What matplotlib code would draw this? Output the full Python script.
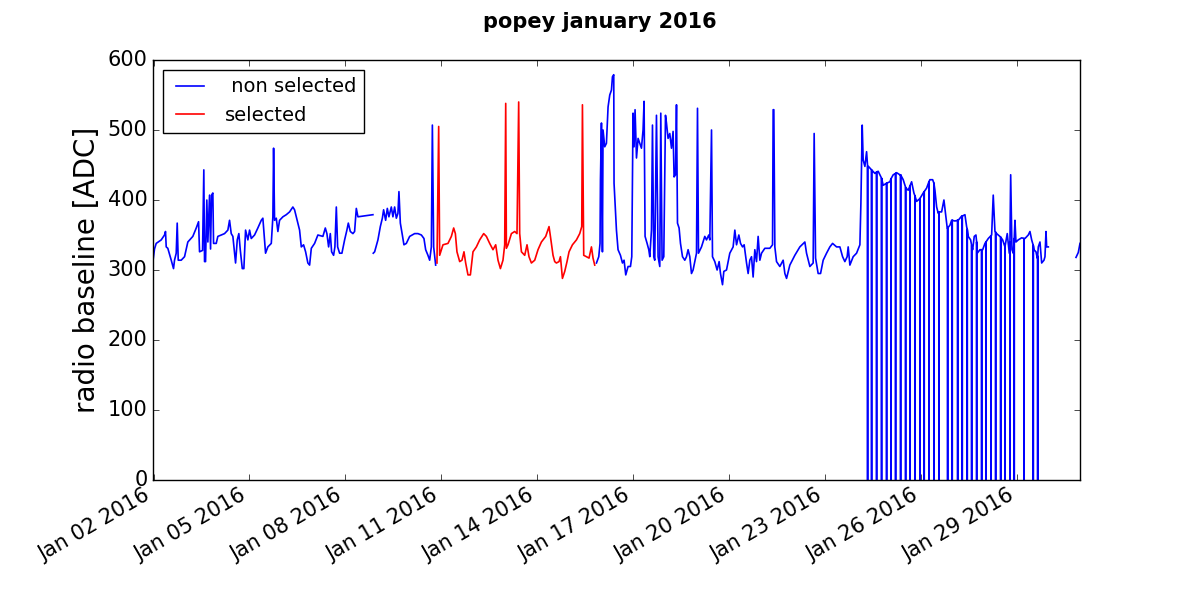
import numpy as np
import matplotlib
matplotlib.use("Agg")
import matplotlib.pyplot as plt
import matplotlib.dates as mdates

plt.style.use('classic')

# time = day of January 2016 (fractional), value = radio baseline [ADC]
# non selected, part 1 (Jan 02 - Jan 08)
seg1_day = [1.984, 2.031, 2.084, 2.241, 2.344, 2.375, 2.397, 2.447, 2.554, 2.626,
            2.657, 2.710, 2.741, 2.773, 2.866, 2.970, 3.073, 3.229, 3.336, 3.408,
            3.439, 3.533, 3.573, 3.595, 3.627, 3.667, 3.699, 3.752, 3.783, 3.814,
            3.855, 3.877, 3.961, 4.011, 4.118, 4.221, 4.324, 4.377, 4.430, 4.481,
            4.565, 4.618, 4.668, 4.712, 4.775, 4.825, 4.878, 4.950, 5.003, 5.056,
            5.159, 5.262, 5.369, 5.419, 5.503, 5.575, 5.682, 5.732, 5.754, 5.785,
            5.838, 5.888, 5.941, 6.045, 6.151, 6.254, 6.357, 6.410, 6.464, 6.567,
            6.620, 6.692, 6.755, 6.826, 6.880, 6.933, 7.036, 7.139, 7.296, 7.371,
            7.421, 7.474, 7.527, 7.568, 7.630, 7.671, 7.715, 7.756, 7.818, 7.890,
            7.974, 8.046, 8.090, 8.153, 8.234, 8.287, 8.340, 8.391, 8.860]
seg1_adc = [313, 330, 338, 343, 350, 355, 333, 331, 314, 302,
            314, 324, 367, 314, 314, 319, 340, 348, 360, 369,
            326, 328, 443, 312, 312, 400, 340, 407, 330, 407,
            410, 338, 338, 348, 350, 352, 357, 371, 352, 348,
            310, 343, 352, 329, 302, 302, 357, 343, 357, 345,
            350, 360, 371, 374, 324, 333, 338, 376, 474, 371,
            374, 355, 371, 376, 379, 383, 390, 386, 376, 357,
            333, 336, 326, 310, 307, 331, 338, 350, 348, 360,
            352, 333, 352, 326, 321, 333, 390, 333, 324, 324,
            343, 357, 367, 355, 352, 355, 388, 376, 379]

# non selected, part 2 (Jan 08 - Jan 10)
seg2_day = [8.870, 8.913, 9.016, 9.091, 9.154, 9.194, 9.257, 9.310, 9.360, 9.435,
            9.485, 9.538, 9.592, 9.642, 9.673, 9.717, 9.779, 9.829, 9.904, 10.008,
            10.164, 10.267, 10.374, 10.455, 10.508, 10.580, 10.633, 10.686, 10.718, 10.758,
            10.821]
seg2_adc = [324, 326, 343, 362, 374, 386, 371, 388, 376, 390,
            376, 390, 374, 381, 412, 367, 350, 336, 338, 348,
            352, 352, 350, 345, 329, 321, 314, 333, 507, 333,
            307]

# selected (Jan 10 - Jan 15)
sel_day = [10.862, 10.915, 10.946, 11.049, 11.206, 11.312, 11.384, 11.437, 11.487, 11.572,
           11.644, 11.706, 11.759, 11.831, 11.906, 11.988, 12.094, 12.197, 12.322, 12.407,
           12.510, 12.613, 12.698, 12.770, 12.845, 12.926, 12.979, 13.011, 13.032, 13.083,
           13.189, 13.292, 13.364, 13.417, 13.448, 13.502, 13.605, 13.677, 13.739, 13.814,
           13.918, 14.021, 14.127, 14.262, 14.365, 14.409, 14.490, 14.543, 14.596, 14.678,
           14.722, 14.784, 14.856, 14.928, 14.991, 15.097, 15.222, 15.325, 15.388, 15.410,
           15.450, 15.535, 15.616, 15.691, 15.741, 15.794]
sel_adc = [310, 505, 321, 336, 338, 348, 360, 352, 326, 312,
           314, 326, 310, 293, 293, 326, 333, 343, 352, 348,
           338, 329, 336, 314, 302, 314, 336, 538, 331, 336,
           352, 355, 352, 540, 352, 326, 321, 336, 319, 310,
           314, 329, 340, 348, 362, 348, 321, 312, 310, 312,
           319, 288, 298, 312, 326, 336, 343, 352, 362, 536,
           321, 319, 317, 333, 317, 307]

# non selected, part 3 (Jan 15 - Jan 29)
seg3_day = [15.848, 15.920, 15.960, 15.973, 16.004, 16.035, 16.054, 16.107, 16.160, 16.211,
            16.264, 16.317, 16.348, 16.389, 16.398, 16.473, 16.523, 16.598, 16.661, 16.711,
            16.764, 16.836, 16.911, 16.952, 16.992, 17.024, 17.055, 17.099, 17.149, 17.202,
            17.255, 17.305, 17.337, 17.368, 17.431, 17.484, 17.515, 17.568, 17.599, 17.640,
            17.671, 17.724, 17.775, 17.828, 17.859, 17.900, 17.953, 18.006, 18.037, 18.087,
            18.140, 18.194, 18.244, 18.275, 18.319, 18.350, 18.381, 18.431, 18.475, 18.538,
            18.610, 18.663, 18.713, 18.766, 18.819, 18.869, 18.976, 19.007, 19.038, 19.132,
            19.235, 19.288, 19.360, 19.392, 19.445, 19.476, 19.548, 19.620, 19.683, 19.726,
            19.789, 19.830, 19.914, 20.017, 20.121, 20.174, 20.227, 20.299, 20.352, 20.415,
            20.465, 20.540, 20.590, 20.643, 20.696, 20.746, 20.799, 20.852, 20.903, 20.956,
            21.009, 21.112, 21.268, 21.353, 21.372, 21.394, 21.425, 21.478, 21.581, 21.685,
            21.738, 21.791, 21.894, 22.050, 22.207, 22.363, 22.416, 22.520, 22.623, 22.654,
            22.698, 22.779, 22.854, 22.936, 23.042, 23.145, 23.230, 23.355, 23.458, 23.543,
            23.614, 23.686, 23.718, 23.771, 23.874, 23.980, 24.084, 24.115, 24.156, 24.187,
            24.240, 24.293, 24.350, 24.450, 24.553, 24.656, 24.762, 24.812, 24.919, 25.022,
            25.125, 25.232, 25.335, 25.438, 25.523, 25.595, 25.701, 25.773, 25.857, 25.960,
            26.064, 26.170, 26.273, 26.358, 26.430, 26.483, 26.533, 26.586, 26.639, 26.711,
            26.774, 26.814, 26.899, 26.952, 27.055, 27.158, 27.265, 27.368, 27.421, 27.471,
            27.546, 27.609, 27.659, 27.712, 27.753, 27.837, 27.922, 27.994, 28.097, 28.203,
            28.253, 28.306, 28.360, 28.463, 28.547, 28.619, 28.691, 28.754, 28.798, 28.838,
            28.879, 28.932, 28.963, 29.035, 29.142, 29.245, 29.348, 29.401, 29.454, 29.526,
            29.589, 29.630, 29.661, 29.714, 29.767, 29.839, 29.870, 29.902, 29.923, 29.974]
seg3_adc = [310, 319, 338, 429, 510, 326, 500, 476, 481, 533,
            550, 557, 576, 579, 424, 357, 329, 321, 310, 314,
            293, 305, 305, 319, 524, 476, 529, 460, 488, 481,
            474, 500, 541, 348, 338, 329, 319, 357, 507, 319,
            314, 521, 319, 305, 524, 314, 319, 521, 510, 488,
            495, 474, 498, 433, 436, 536, 367, 360, 338, 319,
            314, 319, 329, 319, 295, 300, 324, 531, 324, 333,
            348, 343, 350, 343, 500, 319, 312, 300, 312, 295,
            279, 298, 300, 324, 333, 357, 336, 350, 338, 333,
            336, 310, 295, 314, 319, 290, 329, 312, 348, 314,
            324, 331, 331, 336, 529, 529, 333, 312, 305, 314,
            295, 288, 307, 321, 333, 340, 324, 305, 310, 495,
            317, 295, 295, 314, 324, 333, 338, 333, 333, 319,
            312, 319, 333, 307, 319, 324, 336, 395, 507, 457,
            448, 469, 448, 443, 438, 441, 431, 421, 424, 426,
            436, 439, 436, 429, 417, 414, 426, 410, 398, 402,
            410, 417, 429, 429, 414, 390, 381, 383, 383, 400,
            376, 360, 364, 371, 370, 371, 377, 379, 362, 348,
            343, 329, 348, 350, 324, 329, 329, 338, 345, 350,
            407, 355, 352, 348, 343, 333, 352, 324, 436, 329,
            324, 371, 340, 343, 346, 345, 350, 355, 343, 329,
            326, 317, 333, 340, 310, 314, 319, 355, 333, 333]

# drop-outs to zero during Jan 24 - Jan 29
dip_day = [24.325, 24.450, 24.606, 24.762, 24.919, 25.053, 25.200, 25.357, 25.513, 25.648,
           25.804, 25.960, 26.095, 26.242, 26.398, 26.555, 26.827, 26.971, 27.140, 27.284,
           27.440, 27.578, 27.734, 27.890, 28.025, 28.181, 28.328, 28.485, 28.619, 28.776,
           28.910, 29.214, 29.505, 29.642]
dip_top = [448, 443, 440, 431, 424, 430, 438, 436, 418, 420,
           406, 402, 412, 426, 424, 383, 360, 371, 371, 377,
           358, 335, 340, 329, 340, 349, 354, 347, 333, 340,
           345, 345, 335, 320]

# non selected, last bit (Jan 30)
seg4_day = [30.840, 30.912, 30.965]
seg4_adc = [318, 325, 338]


def to_dates(days):
    start = np.datetime64('2016-01-01T00:00')
    mins = np.round((np.asarray(days) - 1.0) * 24 * 60).astype(int)
    return (start + mins.astype('timedelta64[m]')).astype('datetime64[ms]').astype(object)


# put the zero drop-outs into part 3 (level, 0, level at the same time)
d3 = list(seg3_day)
a3 = list(seg3_adc)
for d, top in zip(dip_day, dip_top):
    d3 += [d, d, d]
    a3 += [top, 0, top]
order = np.argsort(np.array(d3), kind='stable')
d3 = np.array(d3)[order]
a3 = np.array(a3)[order]

fig = plt.figure(figsize=(12, 6), dpi=100)
ax = fig.add_subplot(111)

lw = 1.2
ax.plot(to_dates(seg1_day), seg1_adc, 'b-', lw=lw, label=' non selected')
ax.plot(to_dates(seg2_day), seg2_adc, 'b-', lw=lw)
ax.plot(to_dates(d3), a3, 'b-', lw=lw)
ax.plot(to_dates(seg4_day), seg4_adc, 'b-', lw=lw)
ax.plot(to_dates(sel_day), sel_adc, 'r-', lw=lw, label='selected')

ax.set_xlim(to_dates([seg1_day[0]])[0], to_dates([seg4_day[-1]])[0])
ax.set_ylim(0, 600)
ax.xaxis.set_major_locator(mdates.DayLocator(bymonthday=[2, 5, 8, 11, 14, 17, 20, 23, 26, 29]))
ax.xaxis.set_major_formatter(mdates.DateFormatter('%b %d %Y'))
ax.tick_params(labelsize=15)
ax.set_ylabel('radio baseline [ADC]', fontsize=20)
ax.legend(loc='upper left', fontsize=14)
fig.suptitle('popey january 2016', fontsize=15, fontweight='bold')
fig.autofmt_xdate()
fig.subplots_adjust(left=0.1275, right=0.9, top=0.9, bottom=0.2)

fig.savefig('out.png', dpi=100)
